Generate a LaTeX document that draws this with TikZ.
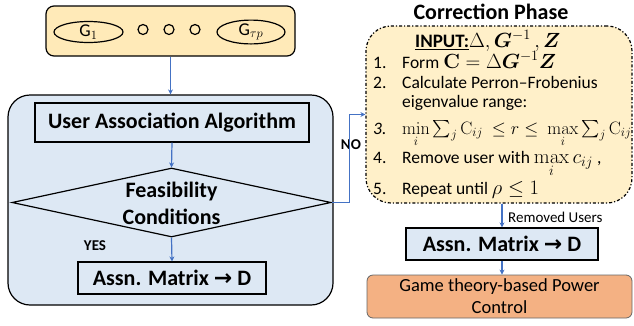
\RequirePackage{fix-cm}
\documentclass[tikz,border=0pt]{standalone}
\usepackage{amsmath,bm}
\usepackage[no-math]{fontspec}
\setmainfont{Carlito}
\newfontfamily\arrowfont{DejaVu Sans}
\usetikzlibrary{shapes.geometric,arrows.meta}

\definecolor{ybox}{HTML}{FFEAB8}
\definecolor{ycorr}{HTML}{FFF0C9}
\definecolor{bbox}{HTML}{DDE8F4}
\definecolor{obox}{HTML}{F4B183}
\definecolor{flow}{HTML}{4472C4}

\newcommand{\thickarrow}{{\arrowfont\bfseries →}}
% math in the step list is set a little larger than the text around it
\newcommand{\bigmath}[1]{{\fontsize{20.5}{22}\selectfont$#1$}}

\tikzset{
  box/.style={draw=black, line width=1.2pt, inner sep=0pt, rectangle},
  flowarrow/.style={draw=flow, line width=1.2pt, -{Stealth[length=5pt,width=5pt]}},
  bigtxt/.style={font=\fontsize{22}{26}\selectfont\bfseries},
  listtxt/.style={font=\fontsize{17.5}{20}\selectfont, anchor=base west, inner sep=0pt},
  smalllbl/.style={font=\fontsize{15}{18}\selectfont\bfseries, inner sep=0pt},
}

\begin{document}
\begin{tikzpicture}[x=1pt,y=-1pt]
\clip (0,0) rectangle (634,325);

% group of G matrices
\node[box, fill=ybox, rounded corners=8pt, minimum width=249pt, minimum height=50pt] (top) at (170.5,31) {};
\node[ellipse, draw, line width=1.2pt, minimum width=69pt, minimum height=21pt, inner sep=0pt, font=\fontsize{18}{20}\selectfont] (g1) at (88.5,32) {G$_1$};
\node[ellipse, draw, line width=1.2pt, minimum width=68pt, minimum height=21pt, inner sep=0pt, font=\fontsize{18}{20}\selectfont] (gtp) at (251,32) {G$_{\tau p}$};
\foreach \x/\n in {143/d1,169/d2,195/d3}
  \node[circle, draw, line width=1.2pt, minimum size=10pt, inner sep=0pt] (\n) at (\x,29.5) {};

% user association block
\node[box, fill=bbox, rounded corners=22pt, minimum width=325pt, minimum height=210pt] (big) at (170.5,200) {};
\node[box, minimum width=274pt, minimum height=39pt, bigtxt] (uaa) at (172,122.5) {User Association Algorithm};
\node[diamond, draw, line width=1.2pt, aspect=4.62, minimum width=319pt, minimum height=69pt, inner sep=0pt] (dia) at (171.5,202.5) {};
\node[align=center, inner sep=0pt, font=\fontsize{22}{27}\selectfont\bfseries] (diatxt) at (171.5,203) {Feasibility\\Conditions};
\node[box, minimum width=188pt, minimum height=32pt, bigtxt] (assn) at (172,278) {Assn. Matrix \thickarrow{} D};
\node[smalllbl] (yes) at (95,246) {YES};
\node[smalllbl] (no) at (351,145) {NO};

% correction phase
\node[font=\fontsize{22}{24}\selectfont\bfseries, inner sep=0pt] (ctitle) at (491,12) {Correction Phase};
\node[draw=black, fill=ycorr, line width=1.2pt, dash dot, rounded corners=25pt, minimum width=266pt, minimum height=177pt, inner sep=0pt] (corr) at (499,114.5) {};
\node[listtxt] (inp) at (415,47) {{\fontsize{19}{20}\selectfont\textbf{\underline{INPUT:}}}\bigmath{\Delta, \bm{G}^{-1}\,, \bm{Z}}};
\node[listtxt] (n1) at (373,68) {1.};
\node[listtxt] (l1) at (402,68) {Form \bigmath{\mathbf{C} = \Delta \bm{G}^{-1}\bm{Z}}};
\node[listtxt] (n2) at (373,88) {2.};
\node[listtxt] (l2) at (402,88) {Calculate Perron–Frobenius};
\node[listtxt] (l2b) at (402,107) {eigenvalue range:};
\node[listtxt] (n3) at (373,134) {\itshape 3.};
\node[listtxt] (l3) at (402,134) {{\fontsize{18}{22}\selectfont$\min\limits_i \sum_j \mathrm{C}_{ij}\ \le r \le\ \max\limits_i \sum_j \mathrm{C}_{ij}$}};
\node[listtxt] (n4) at (373,163) {4.};
\node[listtxt] (l4) at (402,163) {Remove user with \bigmath{\max\limits_i c_{ij}} ,};
\node[listtxt] (n5) at (373,194) {5.};
\node[listtxt] (l5) at (402,194) {Repeat until \bigmath{\rho \le 1}};

\node[font=\fontsize{15}{18}\selectfont, anchor=west, inner sep=0pt] (rem) at (508,217) {Removed Users};
\node[box, fill=bbox, minimum width=192pt, minimum height=32pt, bigtxt] (assn2) at (502,244) {Assn. Matrix \thickarrow{} D};
\node[draw=black!60, fill=obox, line width=0.8pt, rounded corners=6pt, minimum width=265pt, minimum height=43pt, align=center, font=\fontsize{18.5}{22}\selectfont, inner sep=0pt] (game) at (499.5,296.5) {Game theory-based Power\\Control};

% connectors
\draw[flowarrow] (top.south) -- (big.north);
\draw[flowarrow] (uaa.south) -- (dia.north);
\draw[flowarrow] (dia.south) -- (assn.north);
\draw[flowarrow] (dia.east) -- ++(18,0) |- (corr.west);
\draw[flowarrow] (assn2.north |- corr.south) -- (assn2.north);
\draw[flowarrow] (assn2.south) -- (assn2.south |- game.north);
\end{tikzpicture}
\end{document}
